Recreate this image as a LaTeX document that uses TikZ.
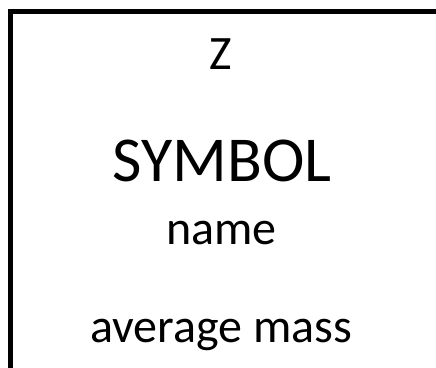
\documentclass[tikz,border=0pt]{standalone}
\usepackage{fontspec}
\setmainfont{Carlito}
\usetikzlibrary{positioning}

\begin{document}
\begin{tikzpicture}[
                x = 1pt, y = 1pt,
                tilebox/.style = {
                    draw      = black,
                    line width = 5pt
                },
                tiletext/.style = {
                    anchor    = base,
                    inner sep = 0pt,
                    font      = \fontsize{48}{58}\selectfont
                },
                bigtext/.style = {
                    tiletext,
                    font      = \fontsize{64}{76}\selectfont
                }
            ]

                \useasboundingbox (0, 0) rectangle (436, 367);
                \clip (0, 0) rectangle (436, 367);
                \draw[tilebox] (10, -20) rectangle (439, 355);
                \node[tiletext] (number) at (221, 297) {Z};
                \node[bigtext] (symbol) at (222, 185) {SYMBOL};
                \node[tiletext] (name) at (221.5, 123) {name};
                \node[tiletext] (mass) at (221, 25) {average mass};
            \end{tikzpicture}
\end{document}
